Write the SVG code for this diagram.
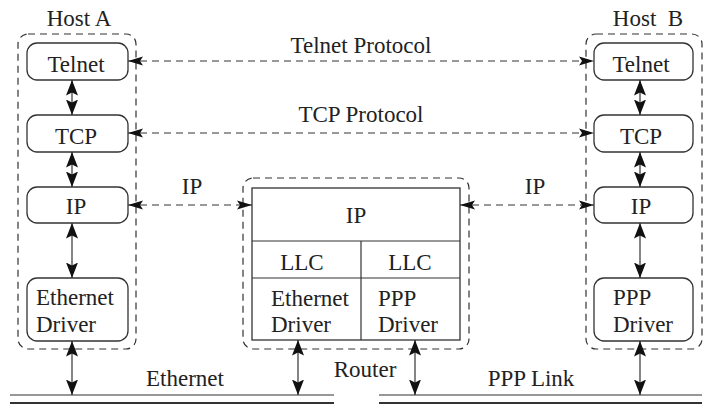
<svg xmlns="http://www.w3.org/2000/svg" width="711" height="409" viewBox="0 0 711 409" font-family="'Liberation Serif', Tinos, 'Times New Roman', Times, 'DejaVu Serif', serif">
<defs>
<style>
text{font-family:'Liberation Serif',Tinos,'Times New Roman',Times,'DejaVu Serif',serif;font-size:23px;fill:#222}
.box{fill:#fff;stroke:#333;stroke-width:1.3}
.grp{fill:none;stroke:#333;stroke-width:1.2;stroke-dasharray:7,5}
.dash{fill:none;stroke:#333;stroke-width:1.2;stroke-dasharray:7,5}
.solid{fill:none;stroke:#333;stroke-width:1.2}
.c{text-anchor:middle}
</style>
<marker id="ah" viewBox="0 0 16 10" refX="15" refY="5" markerWidth="16" markerHeight="10" markerUnits="userSpaceOnUse" orient="auto-start-reverse">
<path d="M0,0.5 L15,5 L0,9.5 L3,5 z" fill="#111"/>
</marker>
<marker id="ab" viewBox="0 0 16 12" refX="15.5" refY="6" markerWidth="16" markerHeight="12" markerUnits="userSpaceOnUse" orient="auto-start-reverse">
<path d="M0,0 L15.5,6 L0,12 L3,6 z" fill="#111"/>
</marker>
</defs>

<g id="hostA">
<rect class="grp" x="18" y="34" width="118" height="315" rx="10"/>
<text x="79" y="26" class="c">Host A</text>
</g>
<g id="telnetA"><rect class="box" x="27" y="43" width="101" height="37" rx="10"/><text x="76" y="72" class="c">Telnet</text></g>
<g id="tcpA"><rect class="box" x="27" y="115" width="101" height="37" rx="10"/><text x="76" y="144" class="c">TCP</text></g>
<g id="ipA"><rect class="box" x="27" y="187" width="101" height="36" rx="10"/><text x="76" y="214" class="c">IP</text></g>
<g id="ethA"><rect class="box" x="27" y="278" width="101" height="63" rx="10"/><text x="36" y="305">Ethernet</text><text x="36" y="332">Driver</text></g>

<g id="hostB">
<rect class="grp" x="586" y="34" width="116" height="315" rx="10"/>
<text x="648" y="26" class="c" xml:space="preserve">Host  B</text>
</g>
<g id="telnetB"><rect class="box" x="594" y="43" width="99" height="37" rx="10"/><text x="641" y="72" class="c">Telnet</text></g>
<g id="tcpB"><rect class="box" x="594" y="115" width="99" height="37" rx="10"/><text x="641" y="144" class="c">TCP</text></g>
<g id="ipB"><rect class="box" x="594" y="187" width="99" height="36" rx="10"/><text x="641" y="214" class="c">IP</text></g>
<g id="pppB"><rect class="box" x="594" y="278" width="99" height="63" rx="10"/><text x="613" y="305">PPP</text><text x="613" y="332">Driver</text></g>

<g id="router">
<rect class="grp" x="243" y="178" width="226" height="171" rx="10"/>
<rect class="box" x="252" y="188" width="208" height="152"/>
<line class="solid" x1="252" y1="241" x2="460" y2="241"/>
<line class="solid" x1="252" y1="278" x2="460" y2="278"/>
<line class="solid" x1="361" y1="241" x2="361" y2="340"/>
<text x="356" y="223" class="c">IP</text>
<text x="302" y="270" class="c">LLC</text>
<text x="410" y="270" class="c">LLC</text>
<text x="271" y="306">Ethernet</text>
<text x="271" y="332">Driver</text>
<text x="378" y="306">PPP</text>
<text x="378" y="332">Driver</text>
<text x="365" y="377" class="c">Router</text>
</g>

<g id="links">
<line x1="10" y1="395" x2="334" y2="395" stroke="#333" stroke-width="1.2"/>
<line x1="10" y1="403" x2="334" y2="403" stroke="#333" stroke-width="2"/>
<line x1="379" y1="395" x2="702" y2="395" stroke="#333" stroke-width="1.2"/>
<line x1="379" y1="403" x2="702" y2="403" stroke="#333" stroke-width="2"/>
<text x="185" y="386" class="c">Ethernet</text>
<text x="531" y="386" class="c">PPP Link</text>
</g>

<g id="connectors">
<line class="dash" x1="128" y1="61" x2="594" y2="61" marker-start="url(#ah)" marker-end="url(#ah)"/>
<text x="361" y="53" class="c">Telnet Protocol</text>
<line class="dash" x1="128" y1="133" x2="594" y2="133" marker-start="url(#ah)" marker-end="url(#ah)"/>
<text x="361" y="122" class="c">TCP Protocol</text>
<line class="dash" x1="128" y1="205" x2="252" y2="205" marker-start="url(#ah)" marker-end="url(#ah)"/>
<text x="192" y="194" class="c">IP</text>
<line class="dash" x1="460" y1="205" x2="594" y2="205" marker-start="url(#ah)" marker-end="url(#ah)"/>
<text x="535" y="194" class="c">IP</text>

<line class="solid" x1="72" y1="80" x2="72" y2="115" marker-start="url(#ab)" marker-end="url(#ab)"/>
<line class="solid" x1="72" y1="152" x2="72" y2="187" marker-start="url(#ab)" marker-end="url(#ab)"/>
<line class="solid" x1="72" y1="223" x2="72" y2="278" marker-start="url(#ab)" marker-end="url(#ab)"/>
<line class="solid" x1="72" y1="341" x2="72" y2="395" marker-start="url(#ab)" marker-end="url(#ab)"/>

<line class="solid" x1="640" y1="80" x2="640" y2="115" marker-start="url(#ab)" marker-end="url(#ab)"/>
<line class="solid" x1="640" y1="152" x2="640" y2="187" marker-start="url(#ab)" marker-end="url(#ab)"/>
<line class="solid" x1="640" y1="223" x2="640" y2="278" marker-start="url(#ab)" marker-end="url(#ab)"/>
<line class="solid" x1="640" y1="341" x2="640" y2="395" marker-start="url(#ab)" marker-end="url(#ab)"/>

<line class="solid" x1="298" y1="340" x2="298" y2="395" marker-start="url(#ab)" marker-end="url(#ab)"/>
<line class="solid" x1="415" y1="340" x2="415" y2="395" marker-start="url(#ab)" marker-end="url(#ab)"/>
</g>
</svg>
